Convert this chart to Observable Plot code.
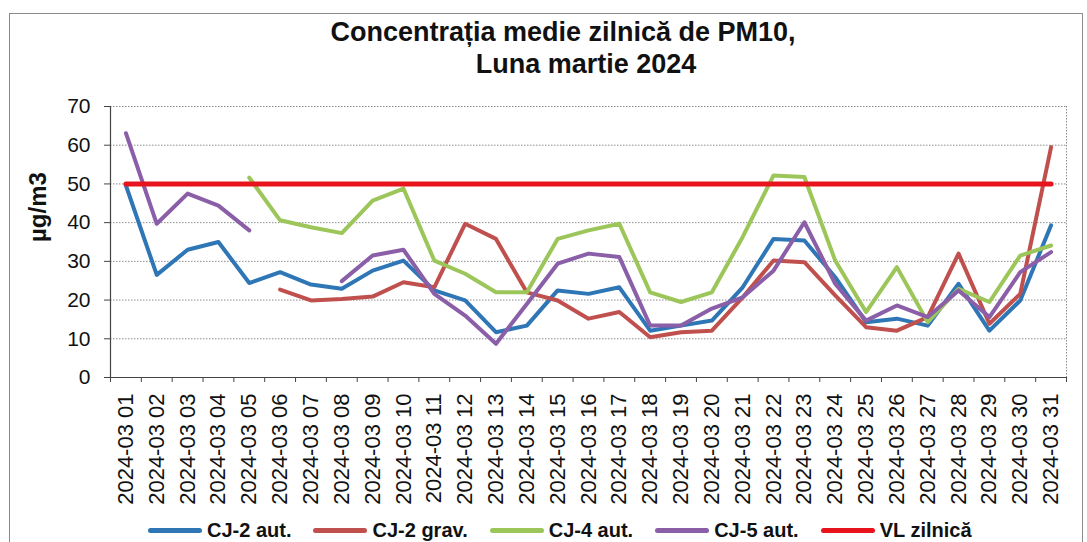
<!DOCTYPE html>
<html><head><meta charset="utf-8">
<script src="https://cdn.jsdelivr.net/npm/d3@7"></script>
<script src="https://cdn.jsdelivr.net/npm/@observablehq/plot@0.6"></script>
<style>
html,body{margin:0;padding:0;background:#fff;}
#wrap{position:relative;width:1087px;height:542px;overflow:hidden;font-family:"Liberation Sans",Arial,sans-serif;color:#111;}
#border{position:absolute;left:9px;top:13px;width:1072px;height:560px;border:1px solid #8a8a8a;}
.t{position:absolute;font-weight:bold;font-size:27px;line-height:32px;white-space:nowrap;transform:translateX(-50%);}
#chart{position:absolute;left:0;top:84px;}
#legend{position:absolute;left:148px;top:515px;height:30px;display:flex;gap:22px;font-weight:bold;font-size:20px;line-height:30px;white-space:nowrap;}
.item{display:flex;align-items:center;gap:5px;}
.sw{width:54px;height:5px;border-radius:2.5px;}
</style></head><body>
<div id="wrap">
<div id="border"></div>
<div class="t" style="left:563px;top:16px">Concentrația medie zilnică de PM10,</div>
<div class="t" style="left:586px;top:48px">Luna martie 2024</div>
<div id="chart"></div>
<div id="legend"></div>
</div>
<script>
const dayLabels = ["2024-03 01","2024-03 02","2024-03 03","2024-03 04","2024-03 05","2024-03 06","2024-03 07","2024-03 08","2024-03 09","2024-03 10","2024-03 11","2024-03 12","2024-03 13","2024-03 14","2024-03 15","2024-03 16","2024-03 17","2024-03 18","2024-03 19","2024-03 20","2024-03 21","2024-03 22","2024-03 23","2024-03 24","2024-03 25","2024-03 26","2024-03 27","2024-03 28","2024-03 29","2024-03 30","2024-03 31"];
const cj2Aut = [49.6,26.5,33.0,35.0,24.4,27.2,24.0,22.9,27.6,30.2,22.5,19.9,11.7,13.4,22.5,21.6,23.3,12.1,13.4,14.7,23.3,35.8,35.4,25.9,14.3,15.2,13.4,24.2,12.1,19.9,39.3];
const cj2Grav = [null,null,null,null,null,22.7,19.9,20.3,20.9,24.6,23.3,39.7,35.8,22.0,19.9,15.2,16.9,10.4,11.7,12.1,20.7,30.2,29.8,21.2,13.0,12.1,15.6,32.0,13.9,21.6,59.5];
const cj4Aut = [null,null,null,null,51.6,40.6,38.8,37.3,45.7,48.8,30.2,26.8,22.0,22.0,35.8,38.0,39.7,22.0,19.5,22.0,36.3,52.2,51.8,30.2,16.9,28.5,14.3,22.9,19.5,31.5,34.1];
const cj5Aut = [63.1,39.7,47.5,44.4,38.0,null,null,24.9,31.5,33.0,21.6,16.0,8.7,19.0,29.4,32.0,31.1,13.4,13.4,17.8,20.7,27.6,40.1,24.2,14.7,18.6,15.6,22.5,15.6,27.2,32.4];
const vlZilnica = [50,50,50,50,50,50,50,50,50,50,50,50,50,50,50,50,50,50,50,50,50,50,50,50,50,50,50,50,50,50,50];
const seriesNames = ["CJ-2 aut.","CJ-2 grav.","CJ-4 aut.","CJ-5 aut.","VL zilnică"];
const seriesColors = ["#2e76b6","#c0504d","#9cc65a","#8b5ea8","#e8141d"];
const yTicks = [0,10,20,30,40,50,60,70];
const yLabel = "µg/m3";

const seriesValues = [cj2Aut, cj2Grav, cj4Aut, cj5Aut, vlZilnica];
const days = d3.range(1, dayLabels.length + 1);
const boundaries = d3.range(0.5, dayLabels.length + 1, 1);
const font = '"Liberation Sans", Arial, sans-serif';

const lineMarks = seriesValues.map((vals, k) =>
  Plot.line(days, {
    x: d => d,
    y: d => vals[d - 1],
    stroke: seriesColors[k],
    strokeWidth: k === 4 ? 5 : 4,
    strokeLinejoin: "round",
    strokeLinecap: "round"
  })
);

const chart = Plot.plot({
  width: 1087,
  height: 423,
  marginTop: 22,
  marginBottom: 130,
  marginLeft: 110,
  marginRight: 21,
  style: {fontFamily: font, color: "#111", background: "transparent", overflow: "visible"},
  x: {type: "linear", domain: [0.5, dayLabels.length + 0.5]},
  y: {domain: [0, 70]},
  marks: [
    Plot.ruleY(yTicks.filter(d => d > 0), {stroke: "#8c8c8c", strokeDasharray: "1.5,1.5", strokeWidth: 1}),
    Plot.ruleX([dayLabels.length + 0.5], {stroke: "#8c8c8c", strokeDasharray: "1.5,1.5", strokeWidth: 1}),
    Plot.axisY({ticks: yTicks, tickSize: 6, tickPadding: 14, fontSize: 21, label: null, tickFormat: d => String(d), stroke: "#444"}),
    Plot.axisX({ticks: boundaries, tickSize: 5, tickFormat: () => "", label: null, stroke: "#444"}),
    Plot.axisX({ticks: days, tickSize: 0, tickPadding: 16, tickRotate: -90, fontSize: 22, label: null, tickFormat: d => dayLabels[d - 1]}),
    Plot.ruleX([0.5], {stroke: "#444", strokeWidth: 1.2}),
    Plot.ruleY([0], {stroke: "#444", strokeWidth: 1.2}),
    ...lineMarks,
    Plot.text([yLabel], {text: d => d, frameAnchor: "left", dx: -72, rotate: -90, fontWeight: "bold", fontSize: 24, fill: "#111"})
  ]
});
document.getElementById("chart").appendChild(chart);

const legend = document.getElementById("legend");
seriesNames.forEach((name, k) => {
  const item = document.createElement("div");
  item.className = "item";
  const sw = document.createElement("span");
  sw.className = "sw";
  sw.style.background = seriesColors[k];
  const tx = document.createElement("span");
  tx.textContent = name;
  item.appendChild(sw);
  item.appendChild(tx);
  legend.appendChild(item);
});
</script>
</body></html>
